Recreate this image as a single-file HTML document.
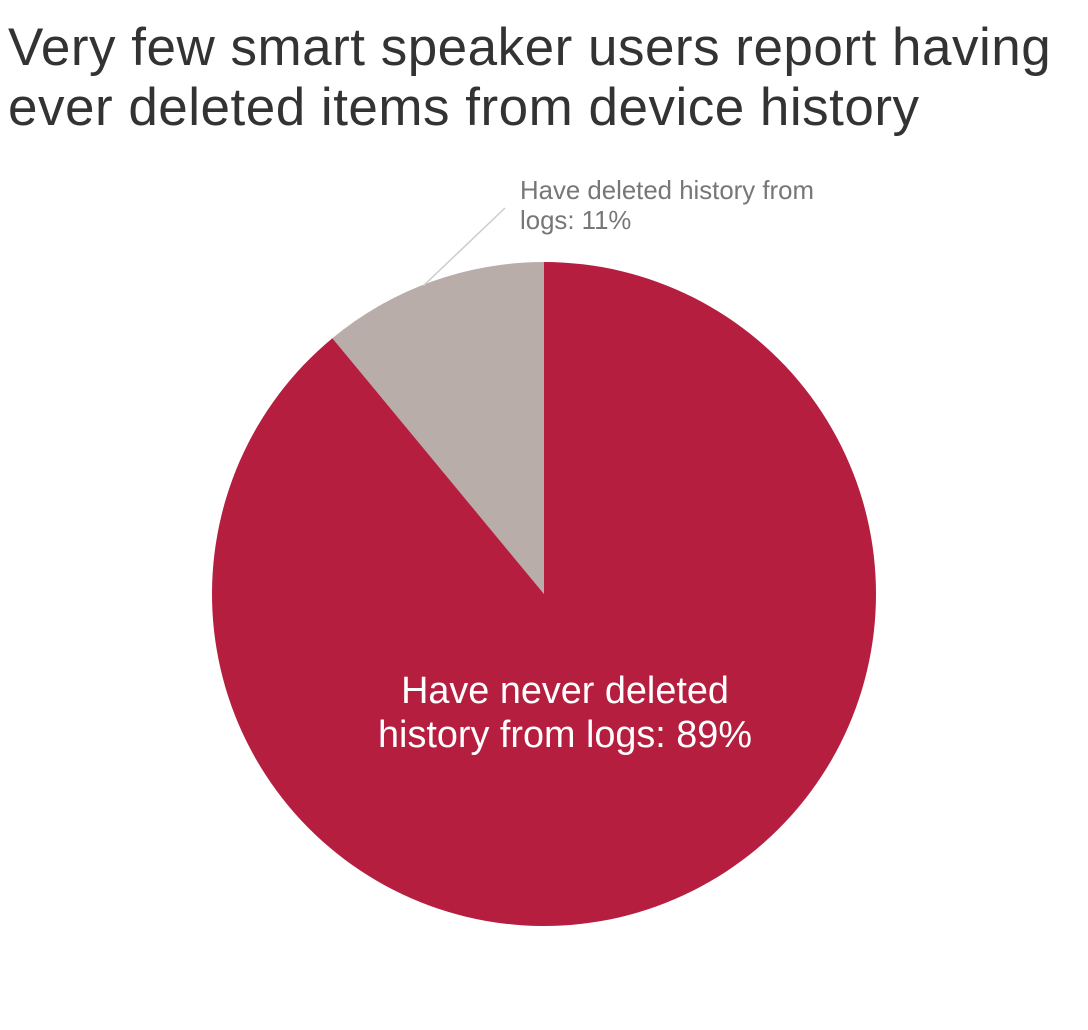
<!DOCTYPE html>
<html><head><meta charset="utf-8"><style>
body{margin:0;background:#fff;width:1088px;height:1030px;overflow:hidden;font-family:"Liberation Sans",sans-serif}
h1{position:absolute;left:8px;top:18px;margin:0;font-weight:normal;font-size:53px;line-height:60px;color:#333;letter-spacing:0.5px;white-space:nowrap}
svg{position:absolute;left:0;top:0}
</style></head><body>
<h1>Very few smart speaker users report having<br>ever deleted items from device history</h1>
<svg id="chart" width="1088" height="1030"></svg>
<script>
const categories=["Have deleted history from logs","Have never deleted history from logs"];
const values=[11,89];
const colors=["#b8ada9","#b51e3f"];
const cx=544,cy=594,r=332;
const svg=document.getElementById('chart');
const NS="http://www.w3.org/2000/svg";
const total=values.reduce((a,b)=>a+b,0);
function pt(frac,rad){const a=frac*2*Math.PI;return [cx-rad*Math.sin(a),cy-rad*Math.cos(a)];}
let start=0;
values.forEach((v,i)=>{
  const end=start+v/total;
  const p0=pt(start,r),p1=pt(end,r);
  const large=(end-start)>0.5?1:0;
  const path=document.createElementNS(NS,'path');
  path.setAttribute('d',`M${cx},${cy} L${p0[0]},${p0[1]} A${r},${r} 0 ${large} 0 ${p1[0]},${p1[1]} Z`);
  path.setAttribute('fill',colors[i]);
  
  
  svg.appendChild(path);
  start=end;
});
const mid=pt(values[0]/total/2,r);
const line=document.createElementNS(NS,'line');
line.setAttribute('x1',mid[0]-8);line.setAttribute('y1',mid[1]+4);
line.setAttribute('x2',505);line.setAttribute('y2',208);
line.setAttribute('stroke','#ccc');line.setAttribute('stroke-width','1.5');


svg.appendChild(line);
function addText(lines,x,y,size,lh,fill,anchor,name){
  const t=document.createElementNS(NS,'text');
  t.setAttribute('x',x);t.setAttribute('y',y);t.setAttribute('font-size',size);
  t.setAttribute('fill',fill);t.setAttribute('text-anchor',anchor);
  t.setAttribute('font-family','Liberation Sans, sans-serif');
  
  
  lines.forEach((l,k)=>{const s=document.createElementNS(NS,'tspan');s.setAttribute('x',x);if(k)s.setAttribute('dy',lh);s.textContent=l;t.appendChild(s);});
  svg.appendChild(t);
}
addText(["Have deleted history from","logs: "+values[0]+"%"],520,199,25.8,30,"#777","start","label-deleted");
addText(["Have never deleted","history from logs: "+values[1]+"%"],565,703,37.8,44,"#fff","middle","label-never-deleted");
</script>
</body></html>
